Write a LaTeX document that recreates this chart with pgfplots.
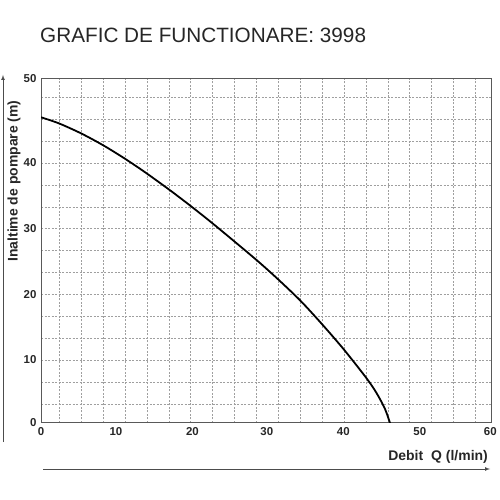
\documentclass[border=0pt]{standalone}
\usepackage{pgfplots}
\pgfplotsset{compat=1.18}
\usepackage{fontspec}
\setmainfont{Liberation Sans}
\begin{document}
\begin{tikzpicture}
\path[use as bounding box] (-41bp,-77bp) rectangle (459bp,423bp);
\begin{axis}[
    scale only axis,
    width=450bp, height=344bp,
    xmin=0, xmax=60, ymin=0, ymax=52.36,
    xtick={0,10,20.2,30.1,40.3,50.5,59.9},
    xticklabels={0,10,20,30,40,50,60},
    ytick={0,9.59,19.59,29.58,39.59,52.36},
    yticklabels={0,10,20,30,40,50},
    minor xtick={2.44,5.36,8.28,11.2,14.12,17.04,19.96,22.88,25.8,28.72,31.64,34.56,37.48,40.4,43.32,46.24,49.16,52.08,55.0,57.92},
    minor ytick={2.89,6.24,9.59,12.94,16.29,19.59,22.94,26.26,29.58,32.9,36.25,39.59,42.92,46.22,49.51},
    xminorgrids, yminorgrids,
    minor grid style={gray!75, dash pattern=on 2bp off 1.5bp, line width=0.5bp},
    major tick length=0pt, minor tick length=0pt,
    axis line style={gray!70!black, line width=1bp},
    ticklabel style={font=\bfseries\fontsize{11.5}{13}\selectfont, text=black!85},
    xticklabel style={yshift=-1bp},
    yticklabel style={xshift=-1bp},
]
\addplot[black, line width=1.8bp, smooth] coordinates {
    (0,46.53) (2.36,45.62) (5.33,44.09) (8.23,42.31) (11.11,40.29) (13.77,38.25)
    (16.97,35.62) (19.87,33.11) (22.89,30.37) (26.76,26.71) (29.2,24.35)
    (31.64,21.84) (34.63,18.57) (37.51,14.99) (40.44,11.11) (43.43,6.77)
    (44.76,4.52) (45.87,2.13) (46.53,0)
};
\end{axis}
% title and outer axis arrows
\node[anchor=west, inner sep=0pt, text=black!85, font=\fontsize{20.8}{24}\selectfont] at (-1bp,388bp) {GRAFIC DE FUNCTIONARE: 3998};
\draw[gray!60!black, line width=0.7bp, -latex] (-38bp,-19bp) -- (-38bp,348bp);
\draw[gray!60!black, line width=0.7bp, -latex] (2bp,-46bp) -- (449bp,-46bp);
\node[rotate=90, inner sep=0pt, font=\bfseries\fontsize{14}{16}\selectfont, text=black!85] at (-27bp,242bp) {Inaltime de pompare (m)};
\node[anchor=east, inner sep=0pt, font=\bfseries\fontsize{14}{16}\selectfont, text=black!85] at (447bp,-34bp) {Debit\hspace{8bp}Q (l/min)};
\end{tikzpicture}
\end{document}
